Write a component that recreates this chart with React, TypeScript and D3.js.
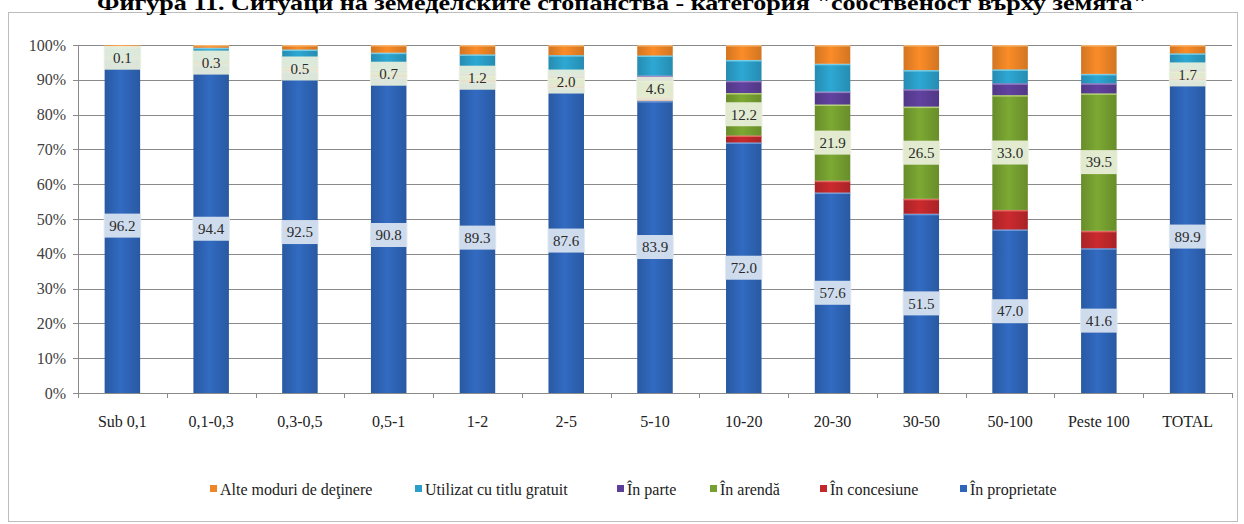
import React, { useRef, useEffect } from 'react';
import * as d3 from 'd3';

const categories = ['Sub 0,1', '0,1-0,3', '0,3-0,5', '0,5-1', '1-2', '2-5', '5-10', '10-20', '20-30', '30-50', '50-100', 'Peste 100', 'TOTAL'];

const proprietate = [96.2, 94.4, 92.5, 90.8, 89.3, 87.6, 83.9, 72.0, 57.6, 51.5, 47.0, 41.6, 89.9];
const concesiune = [0.1, 0.4, 0.5, 0.6, 0.7, 0.9, 1.2, 2.0, 3.4, 4.3, 5.6, 5.0, 0.8];
const arenda = [0.1, 0.3, 0.5, 0.7, 1.2, 2.0, 4.6, 12.2, 21.9, 26.5, 33.0, 39.5, 1.7];
const parte = [0.2, 0.3, 0.4, 0.5, 0.6, 0.9, 1.5, 3.5, 3.7, 5.0, 3.4, 2.9, 0.7];
const gratuit = [2.8, 3.8, 4.8, 5.2, 5.5, 5.7, 5.8, 6.0, 8.0, 5.5, 4.0, 2.7, 4.5];
const alte = [0.6, 0.8, 1.3, 2.2, 2.7, 2.9, 3.0, 4.3, 5.4, 7.2, 7.0, 8.3, 2.4];

const yTicks = [0, 10, 20, 30, 40, 50, 60, 70, 80, 90, 100];

// bottom -> top
const series = [
  { key: 'prop', name: 'În proprietate', values: proprietate, color: '#2f65b8', light: '#7fa6e0', label: true, box: '#dce6f2' },
  { key: 'conc', name: 'În concesiune', values: concesiune, color: '#c0282c', light: '#ee7a6e', label: false, box: '' },
  { key: 'aren', name: 'În arendă', values: arenda, color: '#76a030', light: '#c4dc84', label: true, box: '#ebf1dd' },
  { key: 'part', name: 'În parte', values: parte, color: '#5c3f98', light: '#a58fd0', label: false, box: '' },
  { key: 'grat', name: 'Utilizat cu titlu gratuit', values: gratuit, color: '#2b9fc9', light: '#8ad8f0', label: false, box: '' },
  { key: 'alte', name: 'Alte moduri de deţinere', values: alte, color: '#ee8526', light: '#f8c07e', label: false, box: '' },
];

const legendOrder = ['alte', 'grat', 'part', 'aren', 'conc', 'prop'];

const W = 1244;
const H = 524;
const left = 78;
const right = 1232;
const top = 45;
const bottom = 393;
const font = '"Liberation Serif", "Times New Roman", serif';

export default function App() {
  const svgRef = useRef<SVGSVGElement>(null);

  useEffect(() => {
    const svg = d3.select(svgRef.current);
    svg.selectAll('*').remove();

    const rows = categories.map((c, i) => {
      const r: any = { cat: c };
      series.forEach(s => { r[s.key] = s.values[i]; });
      return r;
    });
    const stacked = d3.stack().keys(series.map(s => s.key))(rows);

    const x = d3.scaleBand().domain(categories).range([left, right]).paddingInner(0.6).paddingOuter(0.3);
    const y = d3.scaleLinear().domain([0, 100]).range([bottom, top]);

    // gradients
    const defs = svg.append('defs');
    series.forEach(s => {
      const g = defs.append('linearGradient').attr('id', 'g-' + s.key).attr('x1', '0').attr('x2', '1').attr('y1', '0').attr('y2', '0');
      g.append('stop').attr('offset', '0%').attr('stop-color', d3.color(s.color)!.darker(0.35).toString());
      g.append('stop').attr('offset', '45%').attr('stop-color', d3.color(s.color)!.brighter(0.15).toString());
      g.append('stop').attr('offset', '100%').attr('stop-color', d3.color(s.color)!.darker(0.35).toString());
    });

    // frame
    svg.append('rect').attr('x', 8.5).attr('y', 12.5).attr('width', 1229).attr('height', 509)
      .attr('fill', 'white').attr('stroke', '#bdbdbd');

    // title (cut at the top like the original)
    svg.append('text').attr('x', 622).attr('y', 10).attr('text-anchor', 'middle')
      .attr('textLength', 1050).attr('lengthAdjust', 'spacingAndGlyphs')
      .style('font-family', font).style('font-weight', 'bold').style('font-size', '22px')
      .text('Фигура 11.  Ситуаци на земеделските стопанства - категория "собственост върху земята"');

    // grid
    svg.append('g').selectAll('line').data(yTicks).join('line')
      .attr('x1', left - 5).attr('x2', right)
      .attr('y1', d => Math.round(y(d)) + 0.5).attr('y2', d => Math.round(y(d)) + 0.5)
      .attr('stroke', '#8a8a8a');

    svg.append('g').selectAll('text').data(yTicks).join('text')
      .attr('x', left - 12).attr('y', d => y(d)).attr('dy', '0.35em').attr('text-anchor', 'end')
      .style('font-family', font).style('font-size', '16px').style('fill', '#404040')
      .text(d => d + '%');

    // y axis line
    svg.append('line').attr('x1', left + 0.5).attr('x2', left + 0.5).attr('y1', top).attr('y2', bottom)
      .attr('stroke', '#8a8a8a');

    // x ticks at band boundaries
    const bounds = categories.map(c => x(c)! - x.step() * 0.3).concat([right]);
    svg.append('g').selectAll('line').data(bounds).join('line')
      .attr('x1', d => Math.round(d) + 0.5).attr('x2', d => Math.round(d) + 0.5)
      .attr('y1', bottom).attr('y2', bottom + 5).attr('stroke', '#8a8a8a');

    // bars
    stacked.forEach((layer, si) => {
      const s = series[si];
      const g = svg.append('g');
      g.selectAll('rect.seg').data(layer).join('rect').attr('class', 'seg')
        .attr('x', (d: any) => x(d.data.cat)!)
        .attr('width', x.bandwidth())
        .attr('y', (d: any) => y(d[1]))
        .attr('height', (d: any) => Math.max(0, y(d[0]) - y(d[1])))
        .attr('fill', `url(#g-${s.key})`);
      g.selectAll('rect.hl').data(layer.filter((d: any) => y(d[0]) - y(d[1]) > 2.5)).join('rect').attr('class', 'hl')
        .attr('x', (d: any) => x(d.data.cat)!)
        .attr('width', x.bandwidth())
        .attr('y', (d: any) => y(d[1]))
        .attr('height', 1.5)
        .attr('fill', s.light)
        .attr('opacity', 0.8);
    });

    // x axis line
    svg.append('line').attr('x1', left).attr('x2', right).attr('y1', bottom + 0.5).attr('y2', bottom + 0.5)
      .attr('stroke', '#8a8a8a');

    // data labels
    stacked.forEach((layer, si) => {
      const s = series[si];
      if (!s.label) return;
      const g = svg.append('g');
      const lg = g.selectAll('g').data(layer).join('g')
        .attr('transform', (d: any) => `translate(${x(d.data.cat)! + x.bandwidth() / 2},${y((d[0] + d[1]) / 2)})`);
      lg.append('rect').attr('x', -x.bandwidth() / 2 - 1).attr('width', x.bandwidth() + 2)
        .attr('y', -12).attr('height', 24).attr('fill', s.box).attr('opacity', 0.92);
      lg.append('text').attr('text-anchor', 'middle').attr('dy', '0.35em')
        .style('font-family', font).style('font-size', '15px').style('fill', '#2a2a2a')
        .text((d: any) => (d[1] - d[0]).toFixed(1));
    });

    // category labels
    svg.append('g').selectAll('text').data(categories).join('text')
      .attr('x', d => x(d)! + x.bandwidth() / 2).attr('y', 421).attr('dy', '0.35em').attr('text-anchor', 'middle')
      .style('font-family', font).style('font-size', '16px').style('fill', '#222')
      .text(d => d);

    // legend
    const legendX = [213, 418, 620, 713, 823, 963];
    const lg = svg.append('g').selectAll('g').data(legendOrder).join('g')
      .attr('transform', (d, i) => `translate(${legendX[i]},489)`);
    lg.append('rect').attr('x', -3).attr('y', -4).attr('width', 7).attr('height', 7)
      .attr('fill', d => series.find(s => s.key === d)!.color);
    lg.append('text').attr('x', 7).attr('dy', '0.35em')
      .style('font-family', font).style('font-size', '16px').style('fill', '#222')
      .text(d => series.find(s => s.key === d)!.name);
  }, []);

  return (
    <svg ref={svgRef} width={W} height={H} style={{ position: 'absolute', left: 0, top: 0, background: 'white' }} />
  );
}
